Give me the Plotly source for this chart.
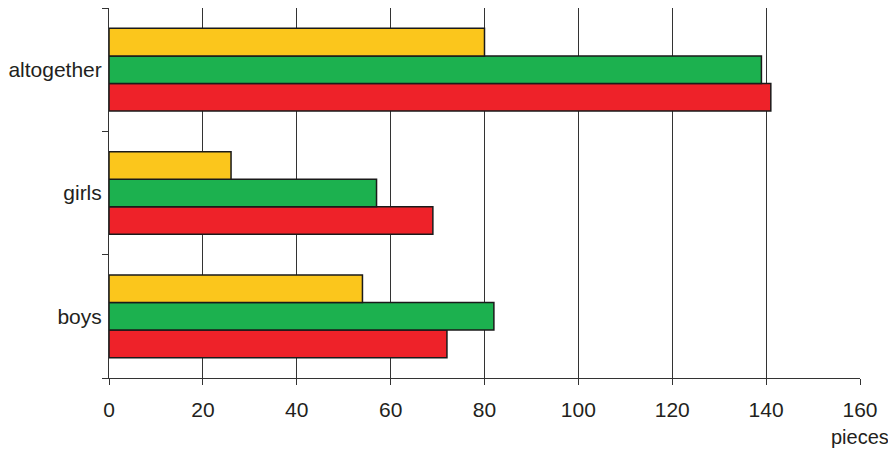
import plotly.graph_objects as go

categories = ["boys", "girls", "altogether"]
yellow_vals = [54, 26, 80]
green_vals = [82, 57, 139]
red_vals = [72, 69, 141]
x_ticks = [0, 20, 40, 60, 80, 100, 120, 140, 160]

colors = {"red": "#EE2229", "green": "#1CB14F", "yellow": "#FBC61C"}

fig = go.Figure()
for name, vals in [("red", red_vals), ("green", green_vals), ("yellow", yellow_vals)]:
    fig.add_trace(go.Bar(
        y=categories, x=vals, orientation="h", name=name,
        marker=dict(color=colors[name], line=dict(color="#1a1a1a", width=1.5)),
        showlegend=False,
    ))

# page body has an 8px margin, so the figure starts at (8, 8)
fig.update_layout(
    width=880, height=441,
    margin=dict(l=101, r=28, t=0, b=71),
    barmode="group", bargap=0.33, bargroupgap=0,
    plot_bgcolor="white", paper_bgcolor="white",
    font=dict(family="Liberation Sans, Arial, sans-serif", size=21, color="#231f20"),
)
fig.update_xaxes(
    range=[0, 160], tickvals=x_ticks, showgrid=True, gridcolor="#333333", gridwidth=1,
    showline=True, linecolor="#333333", linewidth=1, zeroline=False,
    ticks="outside", ticklen=6, tickcolor="#333333", ticklabelstandoff=7,
)
fig.update_yaxes(
    categoryorder="array", categoryarray=categories,
    showgrid=False, showline=True, linecolor="#333333", linewidth=1,
    ticks="outside", tickson="boundaries", ticklen=6, tickcolor="#333333",
    ticklabelstandoff=2,
)
fig.add_annotation(text="pieces", x=160, y=0, xref="x", yref="paper",
                   yshift=-59, showarrow=False, xanchor="center", yanchor="middle",
                   font=dict(size=20))

fig.write_html("out.html")
